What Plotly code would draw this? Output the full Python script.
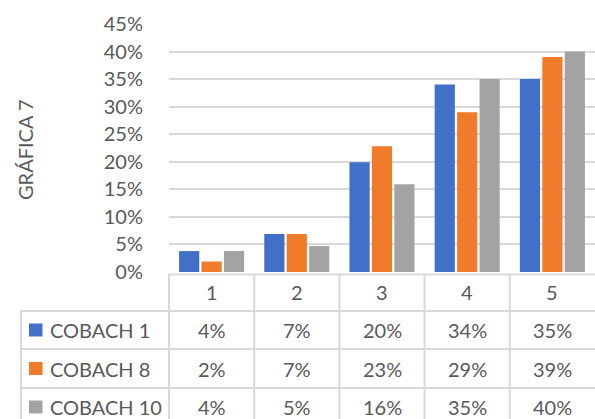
import plotly.graph_objects as go

categories = ["1", "2", "3", "4", "5"]
series_names = ["COBACH 1", "COBACH 8", "COBACH 10"]
cobach1 = [0.038, 0.069, 0.199, 0.340, 0.350]
cobach8 = [0.019, 0.069, 0.228, 0.290, 0.390]
cobach10 = [0.038, 0.047, 0.159, 0.350, 0.400]
y_ticks = [0, 0.05, 0.10, 0.15, 0.20, 0.25, 0.30, 0.35, 0.40, 0.45]
y_title = "GRÁFICA 7"

colors = ["#4270C8", "#F07B2A", "#A3A3A3"]
series = [cobach1, cobach8, cobach10]
xpos = list(range(len(categories)))

W, H = 595, 419
L, R, T, B = 169, 0, 24, 147
pw, ph = W - L - R, H - T - B
FONT = "Lato, 'Open Sans', sans-serif"
FS = 20
TXT = "#595959"
LINE = "#D9D9D9"

def px_x(px):
    return (px - L) / pw

def px_y(py):
    return (H - B - py) / ph

fig = go.Figure()
for name, vals, col in zip(series_names, series, colors):
    fig.add_trace(go.Bar(x=xpos, y=vals, name=name, marker=dict(color=col, line=dict(width=0))))

shapes = []
annotations = []
# header top line
shapes.append(dict(type="line", xref="paper", yref="paper", x0=0, x1=1, y0=px_y(274.5), y1=px_y(274.5), line=dict(color=LINE, width=2)))
# row lines
for py in [311, 349, 388]:
    shapes.append(dict(type="line", xref="paper", yref="paper", x0=px_x(20), x1=1, y0=px_y(py), y1=px_y(py), line=dict(color=LINE, width=2)))
# vertical lines
shapes.append(dict(type="line", xref="paper", yref="paper", x0=0, x1=0, y0=px_y(274), y1=px_y(425), line=dict(color=LINE, width=2)))
shapes.append(dict(type="line", xref="paper", yref="paper", x0=px_x(21), x1=px_x(21), y0=px_y(311), y1=px_y(425), line=dict(color=LINE, width=2)))
for i in range(len(categories) - 1):
    shapes.append(dict(type="line", xref="x", yref="paper", x0=i + 0.5, x1=i + 0.5, y0=px_y(274), y1=px_y(425), line=dict(color=LINE, width=2)))

# header labels
for xi, c in zip(xpos, categories):
    annotations.append(dict(x=xi, y=px_y(292), xref="x", yref="paper", text=c, showarrow=False,
                            font=dict(family=FONT, size=FS, color=TXT), xanchor="center", yanchor="middle"))

row_centers = [330, 368.5, 407]
for name, vals, col, cy in zip(series_names, series, colors, row_centers):
    shapes.append(dict(type="rect", xref="paper", yref="paper", x0=px_x(29), x1=px_x(42.5),
                       y0=px_y(cy - 6.5), y1=px_y(cy + 6.5), fillcolor=col, line=dict(width=0)))
    annotations.append(dict(x=px_x(48), y=px_y(cy), xref="paper", yref="paper", text=name, showarrow=False,
                            font=dict(family=FONT, size=FS, color=TXT), xanchor="left", yanchor="middle"))
    for xi, v in zip(xpos, vals):
        annotations.append(dict(x=xi, y=px_y(cy), xref="x", yref="paper", text=f"{round(v * 100):.0f}%", showarrow=False,
                                font=dict(family=FONT, size=FS, color=TXT), xanchor="center", yanchor="middle"))

annotations.append(dict(x=px_x(25), y=px_y(150), xref="paper", yref="paper", text=y_title, showarrow=False,
                        textangle=-90, font=dict(family=FONT, size=FS, color=TXT), xanchor="center", yanchor="middle"))

fig.update_layout(
    width=W, height=H, autosize=False,
    margin=dict(l=L, r=R, t=T, b=B),
    paper_bgcolor="white", plot_bgcolor="white",
    barmode="group", bargap=0.21, bargroupgap=0.1,
    showlegend=False,
    font=dict(family=FONT, color=TXT),
    xaxis=dict(range=[-0.5, 4.5], showticklabels=False, showgrid=False, zeroline=False, showline=False, fixedrange=True),
    yaxis=dict(range=[0, 0.45], tickvals=y_ticks, tickformat=".0%", showgrid=True, gridcolor=LINE, gridwidth=1.5,
               zeroline=False, showline=False, ticks="outside", ticklen=21, tickcolor="rgba(0,0,0,0)",
               tickfont=dict(family=FONT, size=FS, color=TXT)),
    shapes=shapes, annotations=annotations,
)

fig.write_html("out.html", config={"displayModeBar": False},
               post_script="document.body.style.margin='0';document.body.style.overflow='hidden';")
